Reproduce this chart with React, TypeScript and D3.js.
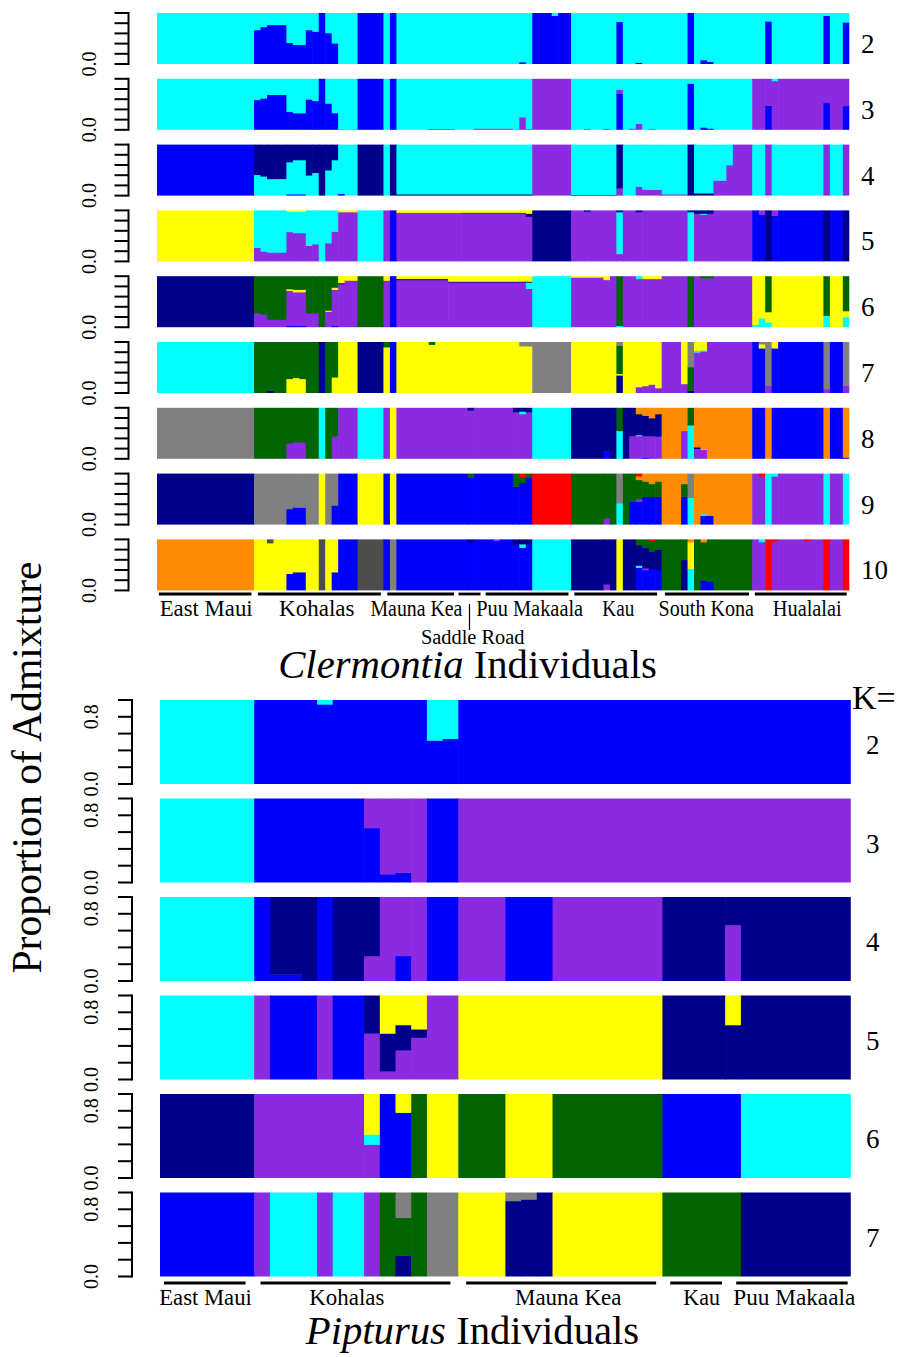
import React from "react";
import * as d3 from "d3";

type Run = [number, string];

// cluster colours
const COLOR: Record<string, string> = {
  C: "#00FFFF", B: "#0000FF", N: "#00008B", P: "#8A2BE2", Y: "#FFFF00",
  G: "#006400", R: "#808080", O: "#FF8C00", D: "#FF0000", K: "#4D4D4D",
};

// ---------- Clermontia (107 individuals), runs of [count, "stack bottom->top (percent)"] ----------
const clermontiaK = [2, 3, 4, 5, 6, 7, 8, 9, 10];

const clermontiaK2: Run[] = [
  [15, "C"], [1, "B67 C"], [1, "B73 C"], [3, "B77 C"], [1, "B42 C"], [2, "B38 C"], [1, "B67 C"],
  [1, "B64 C"], [1, "B"], [1, "B61 C"], [1, "B41 C"], [3, "C"], [4, "B"], [1, "C"], [1, "B"],
  [19, "C"], [1, "B4 C"], [1, "C"], [3, "B"], [1, "B95 C"], [2, "B"], [7, "C"], [1, "B83 C"],
  [2, "C"], [1, "B3 C"], [7, "C"], [1, "B"], [1, "C"], [1, "B8 C"], [1, "B5 C"], [8, "C"],
  [1, "B84 C"], [8, "C"], [1, "B95 C"], [2, "C"], [1, "B82 C"],
];
const clermontiaK3: Run[] = [
  [15, "C"], [1, "B59 C"], [1, "B62 C"], [3, "B69 C"], [1, "B36 C"], [2, "B33 C"], [1, "B60 C"],
  [1, "B57 C"], [1, "B"], [1, "B52 C"], [1, "B33 C"], [3, "P1 C"], [4, "B"], [1, "C"], [1, "B"],
  [5, "C"], [4, "P2 C"], [3, "C"], [6, "P3 C"], [1, "P1 C"], [1, "P25 C"], [1, "P2 C"], [6, "P"],
  [2, "C"], [1, "P2 C"], [2, "C"], [1, "P2 C"], [1, "C"], [1, "B71 P8 C"], [1, "C"], [1, "P3 C"],
  [1, "P12 C"], [1, "C"], [1, "P2 C"], [5, "C"], [1, "B91 C"], [1, "C"], [1, "B5 C"], [1, "B3 C"],
  [6, "C"], [2, "P"], [1, "B48 P"], [1, "P96 C"], [7, "P"], [1, "B53 P"], [2, "P"], [1, "B47 P"],
];
const clermontiaK4: Run[] = [
  [15, "B"], [1, "C41 N"], [1, "C38 N"], [3, "C33 N"], [1, "B3 C63 N"], [2, "B3 C67 N"], [1, "C40 N"],
  [1, "C45 N"], [1, "N"], [1, "C50 N"], [1, "C70 N"], [1, "B4 C"], [2, "C"], [4, "N"], [1, "C"],
  [1, "N"], [21, "N3 C"], [6, "P"], [7, "N2 C"], [1, "P15 N"], [2, "C"], [1, "P18 C"], [3, "P12 C"],
  [4, "P3 C"], [1, "N"], [3, "N5 C"], [2, "P30 C"], [1, "P60 C"], [3, "P"], [2, "C"], [1, "P"],
  [8, "C"], [1, "P"], [2, "C"], [1, "P"],
];
const clermontiaK5: Run[] = [
  [15, "Y"], [1, "P27 C"], [1, "P20 C"], [3, "P18 C"], [1, "P58 C40 Y"], [2, "P56 C42 Y"], [1, "P31 C"],
  [1, "P34 C"], [1, "C"], [1, "P36 C"], [1, "P59 C"], [3, "P97 Y"], [4, "C"], [1, "P"], [1, "B"],
  [10, "P96 Y"], [10, "P95 N1 Y"], [1, "P88 N6 Y"], [6, "N"], [2, "P"], [1, "P98 N"], [4, "P"],
  [1, "P15 C82 N"], [2, "P"], [1, "P97 N"], [7, "P"], [1, "C97 N"], [1, "P94 N"], [1, "P92 C2 N"],
  [1, "P94 N"], [6, "P"], [1, "B"], [1, "B92 P"], [1, "N"], [1, "B90 P"], [7, "B"], [1, "N"], [2, "B"],
  [1, "N"],
];
const clermontiaK6: Run[] = [
  [15, "N"], [1, "P28 G"], [1, "P25 G"], [3, "P15 G"], [1, "B3 P69 Y3 G"], [2, "B3 P66 Y5 G"],
  [1, "P28 G"], [1, "P28 G"], [1, "G"], [1, "P31 Y2 G"], [1, "B3 P71 Y4 G"], [1, "P85 N2 Y"],
  [2, "P92 Y"], [4, "G"], [1, "P92 Y"], [1, "B"], [8, "P93 N2 Y"], [12, "P88 N2 Y"], [1, "P76 C12 N2 Y"],
  [6, "C"], [5, "P98 Y"], [1, "P93 Y"], [1, "P"], [1, "C3 G"], [2, "P"], [1, "P95 C"], [3, "P95 Y"],
  [4, "P"], [1, "G"], [1, "P"], [2, "P96 G"], [6, "P"], [1, "C5 Y"], [1, "C18 Y"], [1, "C10 Y20 G"],
  [8, "Y"], [1, "C23 G"], [2, "Y"], [1, "C20 Y12 G"],
];
const clermontiaK7: Run[] = [
  [15, "C"], [2, "G"], [1, "N5 G"], [2, "G"], [1, "Y28 G"], [1, "Y30 G"], [1, "Y28 G"], [2, "G"],
  [1, "N"], [1, "G"], [1, "Y31 G"], [3, "Y"], [4, "N"], [1, "Y90 G"], [1, "B"], [5, "Y"],
  [1, "Y95 G"], [13, "Y"], [2, "Y92 R"], [6, "R"], [7, "Y"], [1, "N35 Y3 G55 R"], [2, "Y"],
  [1, "P12 Y"], [1, "P14 Y"], [1, "P17 Y"], [1, "P10 Y"], [3, "P"], [1, "P18 Y"], [1, "N5 G46 R"],
  [1, "P80 C3 Y"], [1, "P82 C2 Y"], [1, "P"], [6, "P"], [1, "B"], [1, "B88 Y8 R"], [1, "P15 R"],
  [1, "B88 Y"], [7, "B"], [1, "P8 R"], [2, "B"], [1, "P15 R"],
];
const clermontiaK8: Run[] = [
  [15, "R"], [5, "G"], [1, "P30 G"], [2, "P33 G"], [2, "G"], [1, "C"], [1, "G"], [1, "P44 G"],
  [3, "P"], [4, "C"], [1, "P"], [1, "Y"], [11, "P"], [1, "P95 N"], [6, "P"], [1, "P92 N"],
  [1, "P88 C5 N"], [1, "P92 N"], [6, "C"], [5, "N"], [1, "B15 N"], [1, "N"], [1, "C55 G"], [1, "N"],
  [1, "P45 N"], [1, "P45 C2 N41 O"], [1, "B3 P42 N40 O"], [1, "P45 N35 O"], [1, "P44 N44 O"],
  [3, "O"], [1, "P55 O"], [1, "C66 G"], [1, "P20 N3 O"], [1, "P18 C2 O"], [1, "O"], [6, "O"],
  [2, "B"], [1, "O"], [8, "B"], [1, "O"], [2, "B"], [1, "B3 O"],
];
const clermontiaK9: Run[] = [
  [15, "N"], [5, "R"], [1, "B31 R"], [2, "B34 R"], [2, "R"], [1, "Y"], [1, "R"], [1, "B38 R"],
  [3, "B"], [4, "Y"], [1, "B"], [1, "Y"], [11, "B"], [1, "B93 G"], [6, "B"], [1, "B75 G"],
  [1, "B82 G10 D"], [1, "B93 G"], [6, "D"], [5, "G"], [1, "P12 G"], [1, "G"], [1, "C42 R"], [1, "G"],
  [1, "B46 G"], [1, "B45 P5 G38 O7 D"], [1, "B55 G30 O"], [1, "B55 G25 O"], [1, "B55 G30 O"],
  [3, "O"], [1, "B55 G25 O"], [1, "C53 R"], [1, "O"], [1, "B18 C3 O"], [1, "B18 O"], [6, "O"],
  [1, "P"], [1, "P95 D"], [1, "C"], [1, "P95 C"], [7, "P"], [1, "C"], [2, "P"], [1, "C"],
];
const clermontiaK10: Run[] = [
  [15, "O"], [2, "Y"], [1, "Y93 K"], [2, "Y"], [1, "B33 Y"], [2, "B36 Y"], [2, "Y"], [1, "K"],
  [1, "Y"], [1, "B36 Y"], [3, "B"], [4, "K"], [1, "B"], [1, "R"], [11, "B"], [1, "B95 N"], [3, "B"],
  [1, "B97 P"], [2, "B"], [1, "B90 N"], [1, "B84 C7 N"], [1, "B90 N"], [6, "C"], [5, "N"],
  [1, "P12 N"], [1, "N"], [1, "Y"], [2, "N"], [1, "B45 C4 N40 G"], [1, "B40 P4 N40 G"],
  [1, "B42 N35 G20 D"], [1, "B40 N40 G"], [3, "G"], [1, "N60 G"], [1, "C43 Y52 O"], [1, "G"],
  [1, "B17 N3 G75 O"], [1, "B17 G"], [6, "G"], [1, "P"], [1, "P95 C"], [1, "D"], [1, "P96 D"],
  [4, "P"], [1, "P97 D"], [2, "P"], [1, "D"], [2, "P"], [1, "D"],
];
const clermontiaRows = [clermontiaK2, clermontiaK3, clermontiaK4, clermontiaK5, clermontiaK6,
  clermontiaK7, clermontiaK8, clermontiaK9, clermontiaK10];

// population labels: underline from/to and label centre, in individual units
const clermontiaGroups = [
  { name: "East Maui", from: 0.3, to: 14.6, at: 7.6 },
  { name: "Kohalas", from: 15.6, to: 34.6, at: 24.7 },
  { name: "Mauna Kea", from: 35.6, to: 45.9, at: 40.1 },
  { name: "Saddle Road", from: 46.6, to: 50.0, at: 48.8 },
  { name: "Puu Makaala", from: 50.8, to: 63.6, at: 57.6 },
  { name: "Kau", from: 64.5, to: 77.3, at: 71.3 },
  { name: "South Kona", from: 78.5, to: 91.5, at: 84.9 },
  { name: "Hualalai", from: 92.4, to: 106.6, at: 100.5 },
];

// ---------- Pipturus (44 individuals) ----------
const pipturusK = [2, 3, 4, 5, 6, 7];
const pipturusK2: Run[] = [[6, "C"], [4, "B"], [1, "B95 C"], [6, "B"], [1, "B52 C"], [1, "B54 C"], [25, "B"]];
const pipturusK3: Run[] = [[6, "C"], [7, "B"], [1, "B65 P"], [1, "B10 P"], [1, "B12 P"], [1, "P"], [2, "B"], [25, "P"]];
const pipturusK4: Run[] = [
  [6, "C"], [1, "B"], [2, "B8 N"], [1, "N"], [1, "B"], [2, "N"], [1, "P30 N"], [1, "P"], [1, "B30 P"],
  [1, "P"], [2, "B"], [3, "P"], [3, "B"], [7, "P"], [4, "N"], [1, "P67 N"], [7, "N"],
];
const pipturusK5: Run[] = [
  [6, "C"], [1, "P"], [3, "B"], [1, "P"], [2, "B"], [1, "P55 N"], [1, "P10 N45 Y"], [1, "P35 N30 Y"],
  [1, "P50 N10 Y"], [2, "P"], [13, "Y"], [4, "N"], [1, "N65 Y"], [7, "N"],
];
const pipturusK6: Run[] = [
  [6, "N"], [7, "P"], [1, "P40 C12 Y"], [1, "B"], [1, "B78 Y"], [1, "G"], [2, "Y"], [3, "G"], [3, "Y"],
  [7, "G"], [5, "B"], [7, "C"],
];
const pipturusK7: Run[] = [
  [6, "B"], [1, "P"], [3, "C"], [1, "P"], [2, "C"], [1, "P"], [1, "G"], [1, "N25 G45 R"], [1, "G"],
  [2, "R"], [3, "Y"], [1, "N90 R"], [1, "N92 R"], [1, "N"], [7, "Y"], [5, "G"], [7, "N"],
];
const pipturusRows = [pipturusK2, pipturusK3, pipturusK4, pipturusK5, pipturusK6, pipturusK7];

const pipturusGroups = [
  { name: "East Maui", from: 0.25, to: 5.45, at: 2.9 },
  { name: "Kohalas", from: 6.4, to: 18.5, at: 11.9 },
  { name: "Mauna Kea", from: 19.5, to: 31.6, at: 26.0 },
  { name: "Kau", from: 32.5, to: 35.8, at: 34.5 },
  { name: "Puu Makaala", from: 36.7, to: 43.8, at: 40.4 },
];

const axisTicks = [0, 0.2, 0.4, 0.6, 0.8, 1.0];

// ---------- layout ----------
const CL = {
  n: 107, x0: 157, x1: 849.3, top0: 13, pitch: 65.8, h: 51, axisX: 128.5, tickLen: 14,
  tickLabelX: 96, tickLabels: [0], kX: 861, kDy: 40, lineY: 594, labelY: 616, labelSize: 23,
  labelLen: [93, 75.4, 92, 103.5, 107, 32, 95.4, 69],
};
const PI = {
  n: 44, x0: 160, x1: 850.8, top0: 700, pitch: 98.5, h: 84, axisX: 132, tickLen: 14,
  tickLabelX: 98, tickLabels: [0, 0.8], kX: 866, kDy: 54, lineY: 1283, labelY: 1305, labelSize: 23,
  labelLen: [92.5, 75, 106.4, 36.6, 122],
};

function parseSpec(spec: string) {
  const parts = spec.trim().split(/\s+/).map((t) => ({ c: t[0], v: t.length > 1 ? +t.slice(1) / 100 : NaN }));
  const known = d3.sum(parts, (p) => (isNaN(p.v) ? 0 : p.v));
  parts.forEach((p) => { if (isNaN(p.v)) p.v = Math.max(0, 1 - known); });
  const tot = d3.sum(parts, (p) => p.v) || 1;
  let acc = 0;
  return parts.map((p) => {
    const y0 = acc / tot;
    acc += p.v;
    return { c: p.c, y0, y1: acc / tot };
  });
}

function Panel({ rows, ks, groups, L, panelKey }: any) {
  const x = d3.scaleLinear().domain([0, L.n]).range([L.x0, L.x1]);
  const els: React.ReactNode[] = [];
  rows.forEach((runs: Run[], i: number) => {
    const top = L.top0 + i * L.pitch;
    const y = d3.scaleLinear().domain([0, 1]).range([top + L.h, top]);
    let start = 0;
    runs.forEach((run, j) => {
      const [count, spec] = run;
      const xa = x(start);
      const xb = x(start + count);
      const last = start + count >= L.n;
      parseSpec(spec).forEach((s, k) => {
        if (s.y1 - s.y0 <= 0) return;
        els.push(
          <rect key={`${panelKey}-${i}-${j}-${k}`} x={xa} y={y(s.y1)}
            width={xb - xa + (last ? 0 : 0.6)} height={y(s.y0) - y(s.y1) + (s.y0 > 0 ? 0.4 : 0)}
            fill={COLOR[s.c]} />
        );
      });
      start += count;
    });
    // axis
    els.push(
      <line key={`${panelKey}-ax-${i}`} x1={L.axisX} x2={L.axisX} y1={y(0) + 1} y2={y(1) - 1}
        stroke="#000" strokeWidth={2} />
    );
    axisTicks.forEach((t) => {
      els.push(
        <line key={`${panelKey}-tk-${i}-${t}`} x1={L.axisX - L.tickLen} x2={L.axisX} y1={y(t)} y2={y(t)}
          stroke="#000" strokeWidth={2} />
      );
    });
    L.tickLabels.forEach((t: number) => {
      els.push(
        <text key={`${panelKey}-tl-${i}-${t}`} transform={`translate(${L.tickLabelX},${y(t)}) rotate(-90)`}
          textAnchor="middle" fontSize={20}>{t.toFixed(1)}</text>
      );
    });
    els.push(
      <text key={`${panelKey}-k-${i}`} x={L.kX} y={top + L.kDy} fontSize={27}>{ks[i]}</text>
    );
  });
  groups.forEach((g: any, gi: number) => {
    const isSR = g.name === "Saddle Road";
    els.push(
      <line key={`${panelKey}-ul-${gi}`} x1={x(g.from)} x2={x(g.to)} y1={L.lineY} y2={L.lineY}
        stroke="#000" strokeWidth={2.8} />
    );
    if (isSR) {
      const cx = x((g.from + g.to) / 2);
      els.push(<line key={`${panelKey}-sr`} x1={cx} x2={cx} y1={604} y2={630} stroke="#000" strokeWidth={1.2} />);
      els.push(
        <text key={`${panelKey}-gl-${gi}`} x={x(g.at)} y={644} textAnchor="middle" fontSize={20}
          textLength={L.labelLen[gi]} lengthAdjust="spacingAndGlyphs">{g.name}</text>
      );
    } else {
      els.push(
        <text key={`${panelKey}-gl-${gi}`} x={x(g.at)} y={L.labelY} textAnchor="middle" fontSize={L.labelSize}
          textLength={L.labelLen[gi]} lengthAdjust="spacingAndGlyphs">{g.name}</text>
      );
    }
  });
  return <g>{els}</g>;
}

export default function App() {
  return (
    <svg width={898} height={1357} viewBox="0 0 898 1357"
      style={{ position: "absolute", left: 0, top: 0, background: "#fff" }}
      fontFamily="'Liberation Serif', 'Times New Roman', serif" fill="#000">
      <rect x={0} y={0} width={898} height={1357} fill="#fff" />
      <Panel rows={clermontiaRows} ks={clermontiaK} groups={clermontiaGroups} L={CL} panelKey="c" />
      <Panel rows={pipturusRows} ks={pipturusK} groups={pipturusGroups} L={PI} panelKey="p" />
      <text x={467.5} y={678} textAnchor="middle" fontSize={40.7}>
        <tspan fontStyle="italic">Clermontia</tspan> Individuals
      </text>
      <text x={472.5} y={1344} textAnchor="middle" fontSize={40.7}>
        <tspan fontStyle="italic">Pipturus</tspan> Individuals
      </text>
      <text transform="translate(41,767.5) rotate(-90)" textAnchor="middle" fontSize={41.7}>
        Proportion of Admixture
      </text>
      <text x={852} y={709} fontSize={34}>K=</text>
    </svg>
  );
}
